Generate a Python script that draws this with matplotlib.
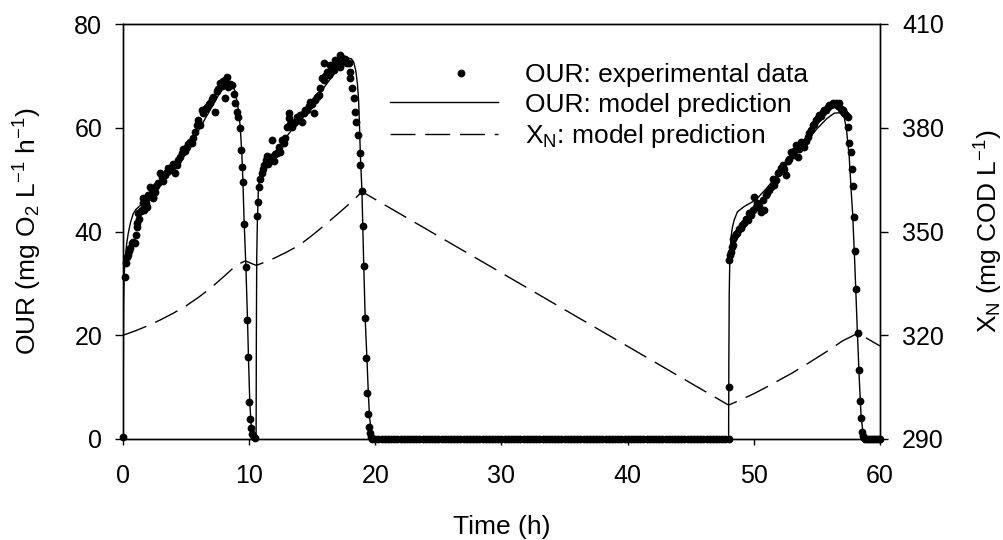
import matplotlib
matplotlib.use('Agg')
import matplotlib.pyplot as plt
from matplotlib.legend_handler import HandlerLine2D

plt.rcParams['font.family'] = ['Liberation Sans', 'DejaVu Sans']
plt.rcParams['mathtext.fontset'] = 'custom'
plt.rcParams['mathtext.rm'] = 'Liberation Sans'
plt.rcParams['mathtext.it'] = 'Liberation Sans:italic'
plt.rcParams['mathtext.default'] = 'regular'

# ---------------- data ----------------
# experimental OUR, cycle 1
t1 = [0.0, 0.16, 0.22, 0.30, 0.40, 0.50, 0.56, 0.69, 0.80, 0.95,
      1.03, 1.10, 1.14, 1.22, 1.30, 1.40, 1.48, 1.55, 1.61, 1.70,
      1.80, 1.88, 1.95, 2.01, 2.14, 2.25, 2.35, 2.41, 2.54, 2.65,
      2.80, 2.94, 3.07, 3.20, 3.33, 3.45, 3.60, 3.75, 3.86, 4.00,
      4.13, 4.25, 4.39, 4.52, 4.66, 4.79, 4.92, 5.05, 5.18, 5.32,
      5.45, 5.58, 5.71, 5.85, 5.98, 6.10, 6.24, 6.38, 6.51, 6.65,
      6.78, 6.90, 7.03, 7.17, 7.30, 7.43, 7.56, 7.70, 7.83, 7.96,
      8.10, 8.10, 8.23, 8.36, 8.50, 8.62, 8.76, 8.89, 9.02, 9.15,
      9.29, 9.37, 9.42, 9.50, 9.60, 9.74, 9.82, 9.88, 9.95, 10.03,
      10.16, 10.26, 10.38, 10.48]
our1 = [0.3, 31.3, 34.0, 35.0, 35.5, 36.2, 36.8, 37.7, 38.0, 37.7,
        39.3, 40.8, 41.6, 43.5, 42.5, 44.0, 44.1, 46.4, 45.4, 44.2,
        45.5, 44.8, 47.0, 46.7, 48.6, 47.3, 46.5, 46.7, 47.7, 48.8,
        49.3, 51.2, 50.6, 49.8, 50.9, 51.5, 52.2, 51.8, 52.5, 53.1,
        51.2, 52.8, 53.8, 54.3, 55.1, 56.0, 55.5, 56.3, 56.8, 57.3,
        57.0, 58.0, 59.2, 60.5, 61.5, 60.5, 63.4, 62.8, 63.7, 64.0,
        64.5, 64.7, 65.5, 66.0, 63.1, 67.0, 67.5, 68.6, 68.0, 69.0,
        69.2, 65.7, 69.8, 67.9, 68.5, 68.2, 66.6, 64.7, 63.1, 62.1,
        59.9, 55.7, 52.4, 49.5, 41.4, 33.2, 22.9, 15.9, 7.2, 3.9,
        2.1, 0.9, 0.3, 0.1]

# experimental OUR, cycle 2
t2 = [10.62, 10.70, 10.78, 10.88, 10.98, 11.06, 11.19, 11.32, 11.45, 11.53,
      11.67, 11.80, 11.93, 12.05, 12.20, 12.33, 12.46, 12.60, 12.73, 12.86,
      12.99, 13.12, 13.12, 13.25, 13.39, 13.52, 13.65, 13.78, 13.92, 14.05,
      14.18, 14.31, 14.45, 14.58, 14.71, 14.84, 14.97, 15.10, 15.24, 15.37,
      15.50, 15.63, 15.77, 15.90, 15.90, 16.03, 16.17, 16.30, 16.43, 16.56,
      16.69, 16.83, 16.96, 17.09, 17.22, 17.22, 17.35, 17.49, 17.62, 17.75,
      17.88, 18.02, 18.02, 18.15, 18.28, 18.41, 18.49, 18.63, 18.75, 18.81,
      18.94, 19.02, 19.13, 19.21, 19.29, 19.35, 19.44, 19.50, 19.55, 19.62]
our2 = [42.9, 45.7, 48.6, 50.2, 51.2, 52.0, 52.8, 53.8, 54.5, 53.1,
        54.4, 57.6, 53.5, 55.0, 55.1, 56.2, 55.4, 57.6, 57.0, 58.0,
        60.2, 62.8, 61.8, 60.8, 60.2, 61.0, 61.2, 62.0, 61.8, 62.5,
        61.2, 62.8, 63.5, 63.4, 64.2, 65.0, 64.5, 62.8, 65.3, 66.0,
        66.3, 67.6, 69.5, 69.2, 72.4, 70.0, 70.8, 70.2, 72.1, 71.5,
        71.1, 73.1, 72.4, 72.8, 71.8, 74.0, 73.5, 72.7, 73.2, 72.5,
        72.4, 69.5, 70.8, 67.6, 65.7, 63.1, 61.2, 58.6, 55.1, 52.8,
        47.9, 41.1, 33.3, 23.4, 15.7, 8.9, 4.8, 2.3, 1.1, 0.4]

# experimental OUR, idle period (no activity)
t0 = [19.75,
      20.0, 20.25, 20.5, 20.75, 21.0, 21.25, 21.5, 21.75,
      22.0, 22.25, 22.5, 22.75, 23.0, 23.25, 23.5, 23.75,
      24.0, 24.25, 24.5, 24.75, 25.0, 25.25, 25.5, 25.75,
      26.0, 26.25, 26.5, 26.75, 27.0, 27.25, 27.5, 27.75,
      28.0, 28.25, 28.5, 28.75, 29.0, 29.25, 29.5, 29.75,
      30.0, 30.25, 30.5, 30.75, 31.0, 31.25, 31.5, 31.75,
      32.0, 32.25, 32.5, 32.75, 33.0, 33.25, 33.5, 33.75,
      34.0, 34.25, 34.5, 34.75, 35.0, 35.25, 35.5, 35.75,
      36.0, 36.25, 36.5, 36.75, 37.0, 37.25, 37.5, 37.75,
      38.0, 38.25, 38.5, 38.75, 39.0, 39.25, 39.5, 39.75,
      40.0, 40.25, 40.5, 40.75, 41.0, 41.25, 41.5, 41.75,
      42.0, 42.25, 42.5, 42.75, 43.0, 43.25, 43.5, 43.75,
      44.0, 44.25, 44.5, 44.75, 45.0, 45.25, 45.5, 45.75,
      46.0, 46.25, 46.5, 46.75, 47.0, 47.25, 47.5, 47.75,
      48.0]
our0 = [0.0, 0.0, 0.0, 0.0, 0.0, 0.0, 0.0, 0.0, 0.0, 0.0, 0.0, 0.0, 0.0, 0.0, 0.0, 0.0, 0.0, 0.0, 0.0,
        0.0, 0.0, 0.0, 0.0, 0.0, 0.0, 0.0, 0.0, 0.0, 0.0, 0.0, 0.0, 0.0, 0.0, 0.0, 0.0, 0.0, 0.0, 0.0,
        0.0, 0.0, 0.0, 0.0, 0.0, 0.0, 0.0, 0.0, 0.0, 0.0, 0.0, 0.0, 0.0, 0.0, 0.0, 0.0, 0.0, 0.0, 0.0,
        0.0, 0.0, 0.0, 0.0, 0.0, 0.0, 0.0, 0.0, 0.0, 0.0, 0.0, 0.0, 0.0, 0.0, 0.0, 0.0, 0.0, 0.0, 0.0,
        0.0, 0.0, 0.0, 0.0, 0.0, 0.0, 0.0, 0.0, 0.0, 0.0, 0.0, 0.0, 0.0, 0.0, 0.0, 0.0, 0.0, 0.0, 0.0,
        0.0, 0.0, 0.0, 0.0, 0.0, 0.0, 0.0, 0.0, 0.0, 0.0, 0.0, 0.0, 0.0, 0.0, 0.0, 0.0, 0.0, 0.0, 0.0]

# experimental OUR, cycle 3
t3 = [48.00, 48.04, 48.10, 48.17, 48.24, 48.31, 48.37, 48.44, 48.57, 48.70,
      48.83, 48.97, 49.10, 49.23, 49.36, 49.50, 49.63, 49.76, 49.90, 50.02,
      50.16, 50.29, 50.42, 50.56, 50.69, 50.82, 50.95, 51.08, 51.21, 51.35,
      51.48, 51.61, 51.75, 51.88, 52.01, 52.14, 52.28, 52.41, 52.54, 52.67,
      52.80, 52.94, 53.07, 53.20, 53.33, 53.47, 53.60, 53.73, 53.86, 53.99,
      54.13, 54.26, 54.39, 54.52, 54.66, 54.79, 54.92, 55.05, 55.18, 55.31,
      55.45, 55.58, 55.71, 55.84, 55.98, 56.11, 56.24, 56.37, 56.51, 56.64,
      56.77, 56.90, 57.03, 57.17, 57.30, 57.44, 57.44, 57.56, 57.70, 57.75,
      57.83, 57.96, 58.02, 58.10, 58.23, 58.36, 58.41, 58.49, 58.57, 58.65,
      58.75, 58.85, 59.00, 59.15, 59.30, 59.45, 59.60, 59.75, 59.90, 60.00]
our3 = [10.0, 34.5, 35.5, 36.1, 37.0, 37.4, 38.5, 39.0, 39.5, 39.7,
        40.5, 40.6, 41.2, 41.6, 42.5, 42.2, 43.5, 43.2, 44.1, 46.7,
        44.8, 45.4, 45.0, 43.8, 46.1, 44.1, 47.0, 47.5, 48.0, 48.6,
        50.2, 49.0, 49.9, 51.2, 51.5, 52.2, 52.8, 52.0, 50.9, 53.5,
        54.0, 55.4, 54.8, 55.5, 56.7, 54.4, 56.0, 57.3, 57.0, 56.3,
        57.5, 58.3, 59.0, 59.6, 60.5, 60.8, 61.5, 61.8, 62.5, 62.2,
        63.1, 63.5, 63.4, 64.0, 64.4, 64.3, 64.7, 64.5, 64.8, 64.2,
        64.7, 63.7, 63.5, 62.8, 62.5, 62.1, 60.2, 57.0, 55.4, 52.0,
        48.8, 42.7, 36.3, 29.0, 20.4, 13.3, 7.3, 4.0, 1.4, 0.5,
        0.2, 0.0, 0.0, 0.0, 0.0, 0.0, 0.0, 0.0, 0.0, 0.0]

# model prediction of OUR
t_model = [0, 0.02, 0.05, 0.1, 0.2, 0.3, 0.42, 0.6, 0.82, 1.0,
           1.5, 2, 2.5, 3, 3.5, 4, 4.5, 5, 5.5, 6,
           6.5, 7, 7.5, 7.96, 8.36, 8.62, 8.89, 9.02, 9.15, 9.29,
           9.42, 9.5, 9.6, 9.74, 9.87, 9.95, 10.05, 10.15, 10.3, 10.45,
           10.55, 10.57, 10.6, 10.65, 10.74, 10.85, 11.0, 11.14, 11.5, 12,
           12.5, 13, 13.5, 14, 14.5, 15, 15.5, 16, 16.5, 17,
           17.5, 17.88, 18.1, 18.28, 18.45, 18.58, 18.68, 18.75, 18.81, 18.94,
           19.07, 19.2, 19.34, 19.45, 19.55, 19.7, 19.9, 20.2,
           47.98, 48.0, 48.02, 48.05, 48.1, 48.2, 48.3, 48.44, 48.7, 49.23,
           50.16, 51, 52, 53, 54, 55, 55.8, 56.37, 56.8, 57.17,
           57.35, 57.56, 57.7, 57.83, 58.0, 58.2, 58.36, 58.5, 58.65, 58.8,
           59.0, 60.0]
our_model = [0, 12, 26, 32, 35.5, 37.8, 39.7, 41.8, 43.5, 44.2,
             45.3, 46.6, 47.8, 49.2, 50.6, 52.2, 53.8, 55.5, 57.3, 59.5,
             61.7, 63.8, 66.0, 67.8, 68.9, 68.6, 67.0, 65.3, 63.4, 60.2,
             55.0, 50.0, 42.0, 33.2, 22.9, 15.2, 7.0, 3.0, 0.8, 0.1,
             0, 20, 35, 42, 48.6, 50.8, 52.0, 52.5, 53.6, 55.2,
             56.8, 58.4, 60.0, 61.6, 63.2, 64.8, 66.4, 68.0, 69.6, 71.2,
             72.7, 73.4, 73.3, 72.7, 71.0, 68.5, 65.0, 60.0, 55.0, 47.7,
             34.5, 22.9, 15.2, 8.5, 4.0, 1.2, 0.2, 0,
             0, 0, 15, 28, 35, 39, 40.8, 42.2, 43.8, 44.8,
             46.1, 48.3, 51.2, 54.1, 57.0, 59.8, 61.8, 62.8, 62.9, 62.0,
             59.5, 54.4, 48.5, 43.5, 33.9, 21.0, 11.4, 4.5, 1.2, 0.2,
             0, 0]

# model prediction of X_N
t_xn = [0, 1, 2, 3, 4, 5, 6, 7, 8, 9, 9.7, 10.55, 11, 12, 13, 14, 15, 16, 17, 18,
        18.95, 48.0, 49, 50, 51, 52, 53, 54, 55, 56, 57, 58.25, 60]
xn_model = [320, 321.3, 322.8, 324.5, 326.4, 328.5, 331.0, 333.8, 337.0, 340.3,
            341.5, 340.2, 340.8, 342.3, 344.1, 346.1, 348.9, 351.9, 355.0, 358.2,
            361.5, 299.8, 301.4, 303.1, 305.0, 307.0, 309.0, 311.2, 313.5, 315.8,
            318.3, 320.6, 316.9]

x_ticks = [0, 10, 20, 30, 40, 50, 60]
y_ticks = [0, 20, 40, 60, 80]
y2_ticks = [290, 320, 350, 380, 410]

assert len(t1) == len(our1) and len(t2) == len(our2)
assert len(t0) == len(our0) and len(t3) == len(our3)
assert len(t_model) == len(our_model) and len(t_xn) == len(xn_model)


class ShiftedMarkerHandler(HandlerLine2D):
    """Legend handler that draws the marker a bit right of the handle centre."""
    def create_artists(self, legend, orig_handle, xdescent, ydescent,
                       width, height, fontsize, trans):
        artists = super().create_artists(legend, orig_handle, xdescent,
                                         ydescent, width, height, fontsize, trans)
        for a in artists:
            xd = list(a.get_xdata())
            a.set_xdata([x + 0.15 * width for x in xd])
        return artists


# ---------------- plot ----------------
FS_TICK = 18
FS = 19
fig = plt.figure(figsize=(10.04, 5.40), dpi=100)
ax = fig.add_axes([123 / 1004, 1 - 439 / 540, 757 / 1004, 415 / 540])
ax2 = ax.twinx()

t_exp = t1 + t2 + t0 + t3
our_exp = our1 + our2 + our0 + our3

pts, = ax.plot(t_exp, our_exp, 'o', color='black', ms=5.6, mew=0,
               clip_on=False, zorder=3, label='OUR: experimental data')
mline, = ax.plot(t_model, our_model, '-', color='black', lw=1.0,
                 zorder=2, label='OUR: model prediction')
dline, = ax2.plot(t_xn, xn_model, color='black', lw=1.0,
                  dashes=(18, 7), label='X$_N$: model prediction')

ax.set_xlim(0, 60)
ax.set_ylim(0, 80)
ax2.set_ylim(290, 410)
ax.set_xticks(x_ticks)
ax.set_yticks(y_ticks)
ax2.set_yticks(y2_ticks)

for a in (ax, ax2):
    for s in a.spines.values():
        s.set_linewidth(1.0)
        s.set_color('black')

ax.tick_params(axis='x', direction='out', length=4, width=1, pad=14, labelsize=FS_TICK)
ax.tick_params(axis='y', direction='out', length=6, width=1, pad=9, labelsize=FS_TICK)
ax2.tick_params(axis='y', direction='out', length=6, width=1, pad=10, labelsize=FS_TICK)

ax.set_xlabel('Time (h)', fontsize=FS)
ax.set_ylabel('OUR (mg O$_2$ L$^{-1}$ h$^{-1}$)', fontsize=FS)
ax2.set_ylabel('X$_N$ (mg COD L$^{-1}$)', fontsize=FS)
ax.xaxis.label.set_verticalalignment('center')
ax.yaxis.label.set_verticalalignment('center')
ax2.yaxis.label.set_verticalalignment('center')
ax.xaxis.set_label_coords(0.5, -0.212)
ax.yaxis.set_label_coords(-0.1255, 0.5)
ax2.yaxis.set_label_coords(1.144, 0.5)

ax2.legend(handles=[pts, mline, dline], loc='upper left',
           bbox_to_anchor=(0.353, 0.905), frameon=False, fontsize=FS,
           borderaxespad=0, borderpad=0, handlelength=4.1,
           handletextpad=1.0, labelspacing=0.2, numpoints=1,
           handler_map={pts: ShiftedMarkerHandler()})

fig.savefig('out.png', dpi=100)
